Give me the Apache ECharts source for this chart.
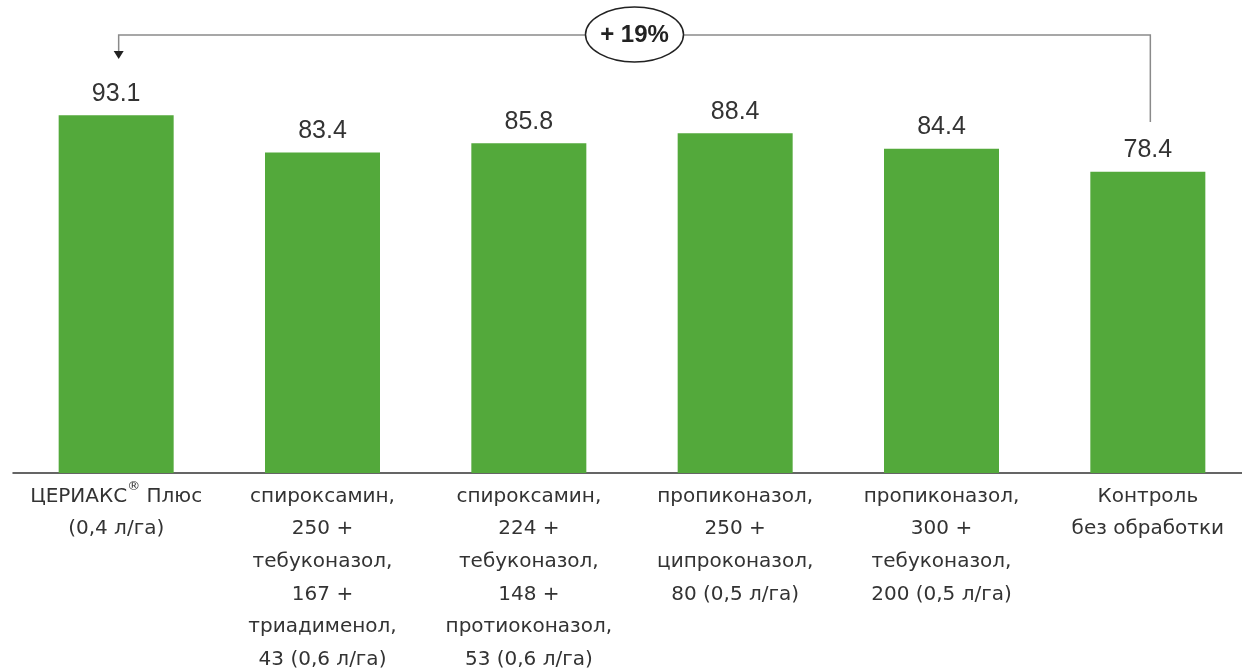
<!DOCTYPE html>
<html>
<head>
<meta charset="utf-8">
<script src="https://cdn.jsdelivr.net/npm/echarts@6/dist/echarts.min.js"></script>
<style>
html,body{margin:0;padding:0;background:#fff;}
#chart{width:1242px;height:671px;}
</style>
</head>
<body>
<div id="chart"></div>
<script>
const categories = [
  'ЦЕРИАКС® Плюс\n(0,4 л/га)',
  'спироксамин,\n250 +\nтебуконазол,\n167 +\nтриадименол,\n43 (0,6 л/га)',
  'спироксамин,\n224 +\nтебуконазол,\n148 +\nпротиоконазол,\n53 (0,6 л/га)',
  'пропиконазол,\n250 +\nципроконазол,\n80 (0,5 л/га)',
  'пропиконазол,\n300 +\nтебуконазол,\n200 (0,5 л/га)',
  'Контроль\nбез обработки'
];
const values = [93.1, 83.4, 85.8, 88.4, 84.4, 78.4];
const annotationText = '+ 19%';
const annotationFrom = 5;
const annotationTo = 0;

const chart = echarts.init(document.getElementById('chart'), null, {renderer: 'canvas'});
chart.setOption({
  animation: false,
  backgroundColor: '#ffffff',
  grid: {left: 13, right: -9, top: 88.7, bottom: 198, containLabel: false, outerBoundsMode: 'none'},
  xAxis: {
    type: 'category',
    data: categories,
    axisLine: {show: true, lineStyle: {color: '#333333', width: 1.5}},
    axisTick: {show: false},
    axisLabel: {
      interval: 0,
      margin: 7,
      color: '#333333',
      fontFamily: 'DejaVu Sans',
      fontSize: 20,
      lineHeight: 32.7,
      align: 'center',
      hideOverlap: false,
      formatter: function (v) { return v.replace('®', '{sup|®}'); },
      rich: {
        sup: {fontSize: 13, fontFamily: 'DejaVu Sans', color: '#333333', verticalAlign: 'top', lineHeight: 24}
      }
    }
  },
  yAxis: {
    type: 'value',
    min: 0,
    max: 100,
    show: false,
    splitLine: {show: false}
  },
  series: [{
    type: 'bar',
    data: values,
    barWidth: 115,
    itemStyle: {color: '#53a93b'},
    label: {
      show: true,
      position: 'top',
      distance: 9,
      color: '#333333',
      fontFamily: 'Liberation Sans',
      fontSize: 25,
      formatter: function (p) { return p.value.toFixed(1); }
    }
  }]
});

const xL = chart.convertToPixel({xAxisIndex: 0}, annotationTo) + 2.5;
const xR = chart.convertToPixel({xAxisIndex: 0}, annotationFrom) + 2.5;
const yLine = 35;
const cx = (xL + xR) / 2;
chart.setOption({
  graphic: [
    {type: 'polyline', z: 10, shape: {points: [[xL, 52], [xL, yLine], [xR, yLine], [xR, 122]]},
     style: {stroke: '#8a8a8a', lineWidth: 1.5, fill: null}},
    {type: 'polygon', z: 11, shape: {points: [[xL - 5, 51], [xL + 5, 51], [xL, 59]]},
     style: {fill: '#222222'}},
    {type: 'ellipse', z: 12, shape: {cx: cx, cy: 34.5, rx: 49, ry: 27.5},
     style: {fill: '#ffffff', stroke: '#222222', lineWidth: 1.5}},
    {type: 'text', z: 13, x: cx, y: 35.5,
     style: {text: annotationText, fill: '#222222', font: 'bold 24px "Liberation Sans"', align: 'center', verticalAlign: 'middle'}}
  ]
});
</script>
</body>
</html>
